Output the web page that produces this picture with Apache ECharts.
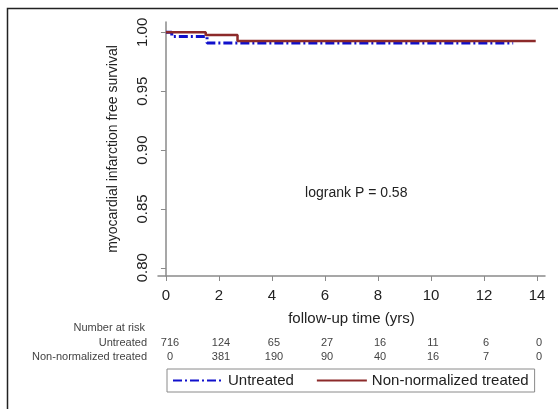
<!DOCTYPE html>
<html><head><meta charset="utf-8">
<script src="https://cdn.jsdelivr.net/npm/echarts@6/dist/echarts.min.js"></script>
<style>html,body{margin:0;padding:0;background:#fff;}#c{width:558px;height:409px;}</style>
</head><body><div id="c"></div>
<script>
const xTicks = [0, 2, 4, 6, 8, 10, 12, 14];
const yTicks = [0.80, 0.85, 0.90, 0.95, 1.00];
const untreated = [[0, 1.0], [0.22, 0.9965], [1.55, 0.991], [13.1, 0.991]];
const treated = [[0, 1.0], [1.5, 0.9978], [2.7, 0.9926], [13.95, 0.9926]];
const riskGroups = ['Untreated', 'Non-normalized treated'];
const riskUntreated = [716, 124, 65, 27, 16, 11, 6, 0];
const riskTreated = [0, 381, 190, 90, 40, 16, 7, 0];
const annotation = {text: 'logrank P = 0.58', x: 7.18, y: 0.8636};

const FONT = 'Liberation Sans, Arial, sans-serif';
const chart = echarts.init(document.getElementById('c'), null, {renderer: 'canvas'});
chart.setOption({
  animation: false,
  backgroundColor: '#fff',
  textStyle: {fontFamily: FONT},
  grid: {left: 158, right: 13, top: 22, bottom: 133, containLabel: false},
  xAxis: {
    type: 'value', min: -0.3, max: 14.3,
    name: 'follow-up time (yrs)', nameLocation: 'middle', nameGap: 35,
    nameTextStyle: {fontSize: 15, color: '#222', fontFamily: FONT},
    axisLine: {show: true, lineStyle: {color: '#8a8a8a', width: 1.5}},
    axisTick: {show: true, length: 5, customValues: xTicks, lineStyle: {color: '#8a8a8a'}},
    axisLabel: {customValues: xTicks, fontSize: 15, color: '#222', margin: 12, fontFamily: FONT},
    splitLine: {show: false}
  },
  yAxis: {
    type: 'value', min: 0.793, max: 1.0088,
    name: 'myocardial infarction free survival', nameLocation: 'middle', nameGap: 38,
    nameTextStyle: {fontSize: 14, color: '#222', fontFamily: FONT},
    axisLine: {show: true, lineStyle: {color: '#8a8a8a', width: 1.5}},
    axisTick: {show: true, length: 5, customValues: yTicks, lineStyle: {color: '#8a8a8a'}},
    axisLabel: {customValues: yTicks, rotate: 90, fontSize: 15, color: '#222', margin: 8,
      formatter: v => v.toFixed(2), fontFamily: FONT},
    splitLine: {show: false}
  },
  legend: {
    data: ['Untreated', 'Non-normalized treated'],
    left: 167, top: 369, orient: 'horizontal',
    itemWidth: 50, itemHeight: 14, itemGap: 22,
    padding: [4, 6, 4, 5],
    borderColor: '#8a8a8a', borderWidth: 1,
    itemStyle: {opacity: 0},
    textStyle: {fontSize: 15, color: '#222', fontFamily: FONT}
  },
  series: [
    {name: 'Untreated', type: 'line', step: 'end', data: untreated, symbol: 'none',
      lineStyle: {color: '#1010cc', width: 3, type: [9, 3, 2, 3]}, itemStyle: {color: '#1010cc'}, z: 2},
    {name: 'Non-normalized treated', type: 'line', step: 'end', data: treated, symbol: 'none',
      lineStyle: {color: '#8c2a2a', width: 2.5}, itemStyle: {color: '#8c2a2a'}, z: 3}
  ]
});

function px(x, y) { return chart.convertToPixel({gridIndex: 0}, [x, y]); }
const g = [];
g.push({type: 'rect', shape: {x: 7.5, y: 8.5, width: 600, height: 500}, style: {fill: 'none', stroke: '#222', lineWidth: 1.5}, z: -1});
const ap = px(annotation.x, annotation.y);
g.push({type: 'text', x: ap[0], y: ap[1], style: {text: annotation.text, font: '14px ' + FONT, fill: '#222', align: 'center', verticalAlign: 'middle'}});
g.push({type: 'text', x: 145, y: 328, style: {text: 'Number at risk', font: '11px ' + FONT, fill: '#444', align: 'right', verticalAlign: 'middle'}});
const rows = [riskUntreated, riskTreated];
const rowY = [343, 357];
rows.forEach((row, r) => {
  g.push({type: 'text', x: 147, y: rowY[r], style: {text: riskGroups[r], font: '11px ' + FONT, fill: '#444', align: 'right', verticalAlign: 'middle'}});
  row.forEach((v, i) => {
    const p = px(xTicks[i], 0.9);
    g.push({type: 'text', x: p[0] + (i === 0 ? 4 : 2), y: rowY[r], style: {text: String(v), font: '11px ' + FONT, fill: '#444', align: 'center', verticalAlign: 'middle'}});
  });
});
chart.setOption({graphic: g});
</script></body></html>
